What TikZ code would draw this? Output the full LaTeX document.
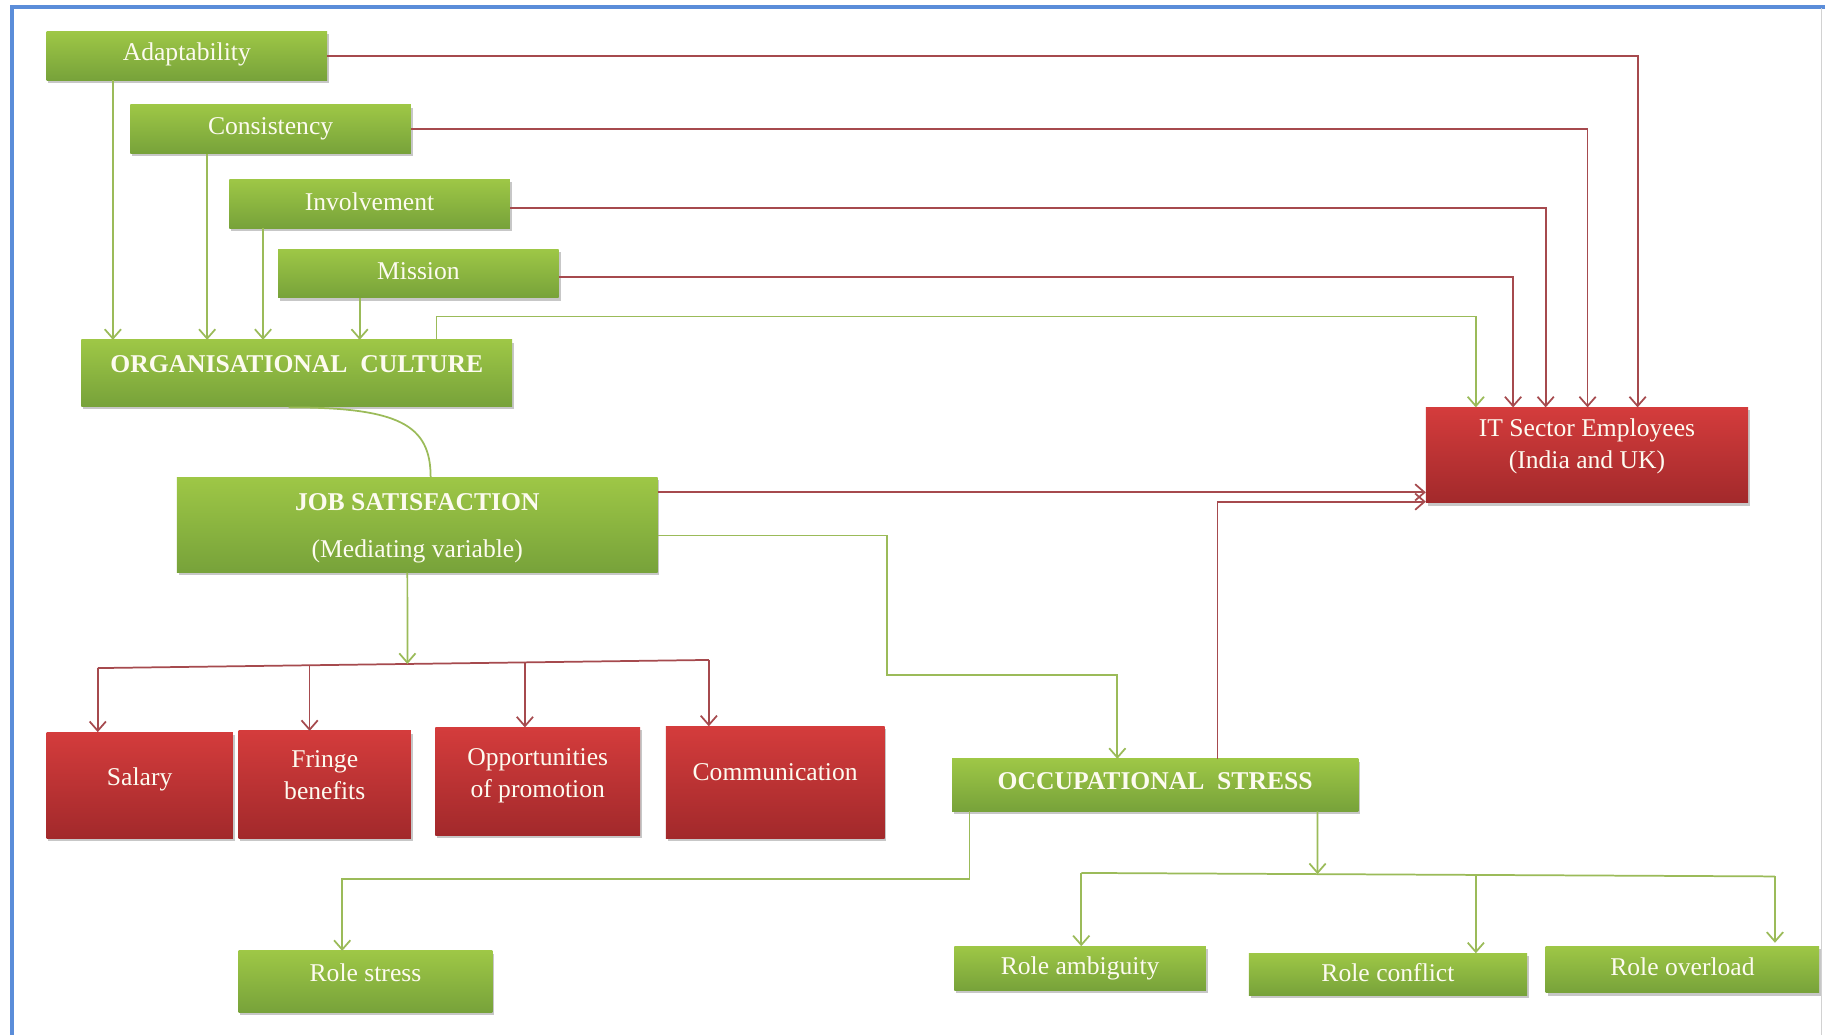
\documentclass[tikz,border=0pt]{standalone}
\usepackage{fontspec}
\setmainfont{Liberation Serif}
\usetikzlibrary{arrows.meta,calc,shadows}

\definecolor{gtop}{HTML}{9EC746}
\definecolor{gbot}{HTML}{77A23A}
\definecolor{rtop}{HTML}{D43C3C}
\definecolor{rbot}{HTML}{A2292B}
\definecolor{gline}{HTML}{9BBB59}
\definecolor{rline}{HTML}{A64A4E}
\definecolor{frameblue}{HTML}{5B8DD9}
\definecolor{cream}{HTML}{FDFBF0}

% box: name, style, x1, y1, x2, y2, text lift, text
\newcommand{\diagbox}[8]{%
  \node[#2, minimum width={(#5-#3)*0.5pt}, minimum height={(#6-#4)*0.5pt},
        label={[boxtext,yshift=#7]center:{#8}}] (#1) at ({(#3+#5)/2},{(#4+#6)/2}) {};}

\tikzset{
  boxbase/.style={rectangle, inner sep=0pt, outer sep=0pt,
    drop shadow={shadow xshift=0.8pt, shadow yshift=-1.2pt, opacity=0.22, fill=black}},
  greenbox/.style={boxbase, top color=gtop, bottom color=gbot},
  redbox/.style={boxbase, top color=rtop, bottom color=rbot},
  boxtext/.style={text=cream, font=\fontsize{11pt}{13.5pt}\selectfont, align=center, inner sep=0pt},
  gconn/.style={draw=gline, line width=0.75pt},
  rconn/.style={draw=rline, line width=0.75pt},
  tip/.style={-{Straight Barb[length=4pt,width=7pt,line width=0.75pt]}},
}

\begin{document}
\begin{tikzpicture}[x=0.5pt, y=-0.5pt]
\useasboundingbox (0,0) rectangle (1568,889);
\fill[white] (0,0) rectangle (1568,889);

% frame
\draw[frameblue, line width=1.6pt] (10,895) -- (10,6) -- (1575,6);
\draw[gray!35, line width=0.6pt] (1565,7) -- (1565,895);

% dimensions of organisational culture
\diagbox{adapt}{greenbox}{40}{27}{281}{69}{0.5pt}{Adaptability}
\diagbox{cons}{greenbox}{112}{90}{353}{132}{0pt}{Consistency}
\diagbox{inv}{greenbox}{197}{154}{438}{196}{1pt}{Involvement}
\diagbox{mis}{greenbox}{239}{214}{480}{256}{1pt}{Mission}
\diagbox{oc}{greenbox}{70}{292}{440}{349}{4pt}{\bfseries ORGANISATIONAL\ \ CULTURE}

% mediator and outcome
\diagbox{js}{greenbox}{152}{410}{565}{492}{-1.5pt}{\bfseries JOB SATISFACTION\\[6.5pt](Mediating variable)}
\diagbox{it}{redbox}{1225}{350}{1502}{432}{3.8pt}{IT Sector Employees\\(India and UK)}

% job satisfaction facets
\diagbox{sal}{redbox}{40}{629}{200}{720}{2.5pt}{Salary}
\diagbox{fri}{redbox}{205}{628}{353}{720}{4pt}{Fringe\\benefits}
\diagbox{opp}{redbox}{374}{625}{550}{718}{2.5pt}{Opportunities\\of promotion}
\diagbox{com}{redbox}{572}{624}{760}{720}{4.5pt}{Communication}

% occupational stress and its components
\diagbox{os}{greenbox}{818}{652}{1167}{697}{1.5pt}{\bfseries OCCUPATIONAL\ \ STRESS}
\diagbox{rs}{greenbox}{205}{817}{423}{870}{4pt}{Role stress}
\diagbox{ra}{greenbox}{820}{813}{1036}{851}{0pt}{Role ambiguity}
\diagbox{rc}{greenbox}{1073}{819}{1312}{855}{0.5pt}{Role conflict}
\diagbox{ro}{greenbox}{1328}{813}{1563}{853}{1pt}{Role overload}

% dimensions -> IT sector employees
\draw[rconn, tip] (adapt.east) -| ($(it.north west)+(182,0)$);
\draw[rconn, tip] (cons.east) -| ($(it.north west)+(139,0)$);
\draw[rconn, tip] ($(inv.east)+(0,4)$) -| ($(it.north west)+(103,0)$);
\draw[rconn, tip] ($(mis.east)+(0,3)$) -| ($(it.north west)+(75,0)$);

% dimensions -> organisational culture
\draw[gconn, tip] ($(adapt.south west)+(57,0)$) coordinate (t) -- (t |- oc.north);
\draw[gconn, tip] ($(cons.south west)+(66,0)$) coordinate (t) -- (t |- oc.north);
\draw[gconn, tip] ($(inv.south west)+(29,0)$) coordinate (t) -- (t |- oc.north);
\draw[gconn, tip] ($(mis.south west)+(70,0)$) coordinate (t) -- (t |- oc.north);

% organisational culture -> IT sector employees
\draw[gconn, tip] ($(oc.north west)+(305,0)$) -- ++(0,-20) -| ($(it.north west)+(43,0)$);

% organisational culture -- job satisfaction
\draw[gconn] ($(oc.south west)+(178,1)$) .. controls +(95,0) and +(0,-45) .. ($(js.north west)+(218,0)$);

% job satisfaction -> IT sector employees
\draw[rconn, tip] ($(js.north east)+(0,13)$) coordinate (t) -- (t -| it.west);

% job satisfaction -> occupational stress
\draw[gconn, tip] ($(js.north east)+(0,50)$) -- ++(197,0) |- ($(os.north west)+(142,-72)$) -- ($(os.north west)+(142,0)$);

% occupational stress -> IT sector employees
\draw[rconn, tip] ($(os.north west)+(228,0)$) |- ($(it.south west)+(0,-1)$);

% job satisfaction -> facets
\coordinate (b1) at ($(sal.north west)+(44,-55)$);
\coordinate (b4) at ($(com.north west)+(37,-57)$);
\draw[rconn] (b1) -- (b4);
\draw[gconn, tip] ($(js.south west)+(198,0)$) -- ($(b1)!0.5067!(b4)$);
\draw[rconn, tip] (b1) -- (b1 |- sal.north);
\draw[rconn, tip] ($(b1)!0.3467!(b4)$) coordinate (t) -- (t |- fri.north);
\draw[rconn, tip] ($(b1)!0.6990!(b4)$) coordinate (t) -- (t |- opp.north);
\draw[rconn, tip] (b4) -- (b4 |- com.north);

% occupational stress -> role stress
\draw[gconn, tip] ($(os.south west)+(15,0)$) -- ++(0,58) -| ($(rs.north west)+(89,0)$);

% occupational stress -> role components
\coordinate (c1) at ($(ra.north west)+(109,-63)$);
\coordinate (c3) at ($(ro.north west)+(197,-60)$);
\draw[gconn] (c1) -- (c3);
\draw[gconn, tip] ($(os.south west)+(314,0)$) -- ($(c1)!0.3406!(c3)$);
\draw[gconn, tip] (c1) -- (c1 |- ra.north);
\draw[gconn, tip] ($(c1)!0.5688!(c3)$) coordinate (t) -- (t |- rc.north);
\draw[gconn, tip] (c3) -- ++(0,57);
\end{tikzpicture}
\end{document}
